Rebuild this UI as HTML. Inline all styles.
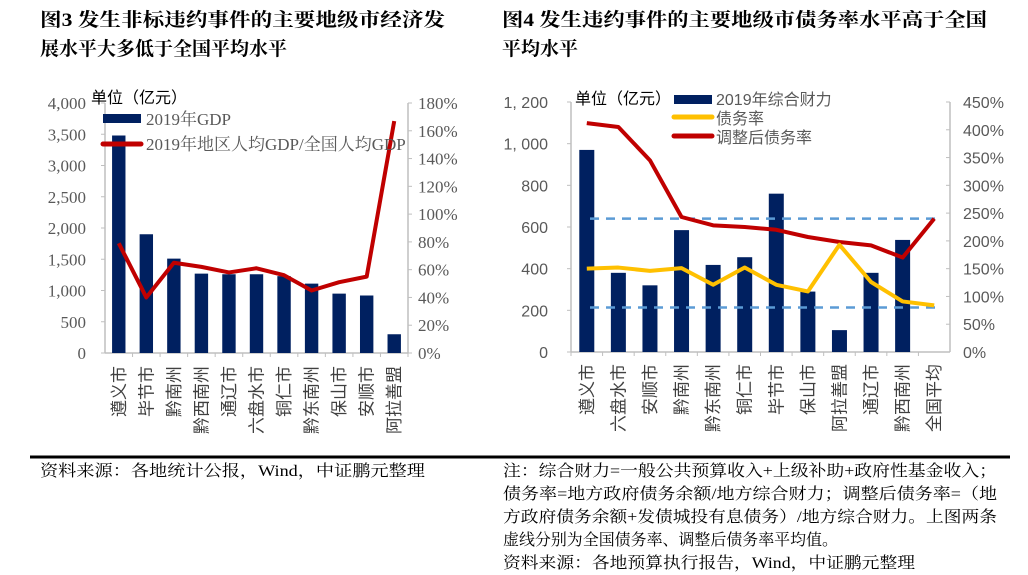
<!DOCTYPE html>
<html><head><meta charset="utf-8">
<style>
html,body{margin:0;padding:0;background:#fff;}
svg{display:block;}
.serif{font-family:"Liberation Serif","Noto Serif CJK SC",serif;}
.sans{font-family:"Liberation Sans","Noto Sans CJK SC",sans-serif;}
</style></head>
<body>
<svg id="s" width="1028" height="575" xmlns="http://www.w3.org/2000/svg">
<g class="serif" font-weight="bold" font-size="19" fill="#000">
<text x="40" y="26" textLength="405" lengthAdjust="spacingAndGlyphs">图3  发生非标违约事件的主要地级市经济发</text>
<text x="40" y="55">展水平大多低于全国平均水平</text>
<text x="502" y="26" textLength="485" lengthAdjust="spacingAndGlyphs">图4  发生违约事件的主要地级市债务率水平高于全国</text>
<text x="502" y="55">平均水平</text>
</g>
<line x1="30" y1="457" x2="1010" y2="457" stroke="#000" stroke-width="3"/>
<g class="serif" font-size="16" fill="#000">
<text x="40" y="476" textLength="385" lengthAdjust="spacingAndGlyphs">资料来源：各地统计公报，Wind，中证鹏元整理</text>
<text x="503" y="476" textLength="494" lengthAdjust="spacingAndGlyphs">注：综合财力=一般公共预算收入+上级补助+政府性基金收入；</text>
<text x="503" y="499" textLength="494" lengthAdjust="spacingAndGlyphs">债务率=地方政府债务余额/地方综合财力；调整后债务率=（地</text>
<text x="503" y="522" textLength="494" lengthAdjust="spacingAndGlyphs">方政府债务余额+发债城投有息债务）/地方综合财力。上图两条</text>
<text x="503" y="545" textLength="335" lengthAdjust="spacingAndGlyphs">虚线分别为全国债务率、调整后债务率平均值。</text>
<text x="503" y="568" textLength="412" lengthAdjust="spacingAndGlyphs">资料来源：各地预算执行报告，Wind，中证鹏元整理</text>
</g>
<g id="g"></g>
</svg>
<script>
var g=document.getElementById('g'),h='';
function T(x,y,t,o){h+='<text x="'+x+'" y="'+y+'" '+(o||'')+'>'+t+'</text>';}
// LEFT
var L0=105,L1=408,Y0=353,Y1=103;
h+='<line x1="'+L0+'" y1="'+Y1+'" x2="'+L0+'" y2="'+Y0+'" stroke="#bfbfbf" stroke-width="1.5"/>';
h+='<line x1="'+L1+'" y1="'+Y1+'" x2="'+L1+'" y2="'+Y0+'" stroke="#bfbfbf" stroke-width="1.5"/>';
h+='<line x1="'+L0+'" y1="'+Y0+'" x2="'+L1+'" y2="'+Y0+'" stroke="#bfbfbf" stroke-width="1.5"/>';
var ll=['0','500','1,000','1,500','2,000','2,500','3,000','3,500','4,000'];
for(var i=0;i<9;i++){var y=Y0-i*250/8;
 h+='<line x1="'+(L0-4)+'" y1="'+y+'" x2="'+L0+'" y2="'+y+'" stroke="#bfbfbf"/>';
 T(86,y+6,ll[i],'class="serif" font-size="17" fill="#595959" text-anchor="end"');}
for(i=0;i<10;i++){var y=Y0-i*250/9;
 h+='<line x1="'+L1+'" y1="'+y+'" x2="'+(L1+4)+'" y2="'+y+'" stroke="#bfbfbf"/>';
 T(418,y+6,(i*20)+'%','class="serif" font-size="17" fill="#595959"');}
var lc=['遵义市','毕节市','黔南州','黔西南州','通辽市','六盘水市','铜仁市','黔东南州','保山市','安顺市','阿拉善盟'];
var lb=[3480,1900,1510,1270,1260,1260,1230,1110,950,920,300];
var lp=[79,40,65,62,58,61,56,45,51,55,167];
var w=(L1-L0)/11,pts=[];
for(i=0;i<11;i++){var cx=L0+w*(i+.5),bh=lb[i]*250/4000;
 h+='<rect x="'+(cx-6.7)+'" y="'+(Y0-bh)+'" width="13.4" height="'+bh+'" fill="#002060"/>';
 h+='<line x1="'+(L0+w*(i+1))+'" y1="'+Y0+'" x2="'+(L0+w*(i+1))+'" y2="'+(Y0+4)+'" stroke="#bfbfbf"/>';
 pts.push(cx+','+(Y0-lp[i]*250/180));
 T(0,0,lc[i],'class="sans" font-size="17" fill="#404040" text-anchor="end" transform="translate('+(cx+6)+',366) rotate(-90)"');}
h+='<polyline points="'+pts.join(' ')+'" fill="none" stroke="#c00000" stroke-width="4" stroke-linejoin="round"/>';
h+='<rect x="103" y="114" width="38" height="9" fill="#002060"/>';
h+='<line x1="103" y1="144" x2="141" y2="144" stroke="#c00000" stroke-width="5" stroke-linecap="round"/>';
T(146,125,'2019年GDP','class="serif" font-size="17" fill="#595959"');
T(146,150,'2019年地区人均GDP/全国人均GDP','class="serif" font-size="17" fill="#595959"');
T(91,103,'单位（亿元）','class="sans" font-size="16" fill="#000"');
// RIGHT
var R0=571,R1=950,Z0=352,Z1=102;
h+='<line x1="'+R0+'" y1="'+Z1+'" x2="'+R0+'" y2="'+Z0+'" stroke="#bfbfbf" stroke-width="1.5"/>';
h+='<line x1="'+R1+'" y1="'+Z1+'" x2="'+R1+'" y2="'+Z0+'" stroke="#bfbfbf" stroke-width="1.5"/>';
h+='<line x1="'+R0+'" y1="'+Z0+'" x2="'+R1+'" y2="'+Z0+'" stroke="#bfbfbf" stroke-width="1.5"/>';
var rl=['0','200','400','600','800','1, 000','1, 200'];
for(i=0;i<7;i++){var y=Z0-i*250/6;
 h+='<line x1="'+(R0-4)+'" y1="'+y+'" x2="'+R0+'" y2="'+y+'" stroke="#bfbfbf"/>';
 T(548,y+6,rl[i],'class="sans" font-size="16" fill="#595959" text-anchor="end"');}
for(i=0;i<10;i++){var y=Z0-i*250/9;
 h+='<line x1="'+(R1-4)+'" y1="'+y+'" x2="'+R1+'" y2="'+y+'" stroke="#bfbfbf"/>';
 T(963,y+6,(i*50)+'%','class="sans" font-size="16" fill="#595959"');}
var rc=['遵义市','六盘水市','安顺市','黔南州','黔东南州','铜仁市','毕节市','保山市','阿拉善盟','通辽市','黔西南州','全国平均'];
var rb=[970,380,320,585,418,455,760,290,105,380,538,0];
var ry=[150,152,146,151,121,152,121,109,193,126,91,84];
var rr=[412,405,345,243,228,225,220,207,198,192,170,240];
w=(R1-R0)/12;var py=[],pr=[];
for(i=0;i<12;i++){var cx=R0+w*(i+.5),bh=rb[i]*250/1200;
 if(bh)h+='<rect x="'+(cx-7.5)+'" y="'+(Z0-bh)+'" width="15" height="'+bh+'" fill="#002060"/>';
 h+='<line x1="'+(R0+w*i)+'" y1="'+Z0+'" x2="'+(R0+w*i)+'" y2="'+(Z0+4)+'" stroke="#bfbfbf"/>';
 py.push(cx+','+(Z0-ry[i]*250/450));pr.push(cx+','+(Z0-rr[i]*250/450));
 T(0,0,rc[i],'class="sans" font-size="17" fill="#404040" text-anchor="end" transform="translate('+(cx+6)+',364) rotate(-90)"');}
var d1=Z0-240*250/450,d2=Z0-80*250/450;
h+='<line x1="590" y1="'+d1+'" x2="937" y2="'+d1+'" stroke="#5b9bd5" stroke-width="2.5" stroke-dasharray="9,7"/>';
h+='<line x1="590" y1="'+d2+'" x2="937" y2="'+d2+'" stroke="#5b9bd5" stroke-width="2.5" stroke-dasharray="9,7"/>';
h+='<polyline points="'+pr.join(' ')+'" fill="none" stroke="#c00000" stroke-width="4" stroke-linejoin="round"/>';
h+='<polyline points="'+py.join(' ')+'" fill="none" stroke="#ffc000" stroke-width="4" stroke-linejoin="round"/>';
h+='<rect x="674" y="95" width="38" height="9" fill="#002060"/>';
h+='<line x1="674" y1="117" x2="712" y2="117" stroke="#ffc000" stroke-width="5" stroke-linecap="round"/>';
h+='<line x1="674" y1="136" x2="712" y2="136" stroke="#c00000" stroke-width="5" stroke-linecap="round"/>';
T(716,105,'2019年综合财力','class="sans" font-size="16" fill="#595959"');
T(716,124,'债务率','class="sans" font-size="16" fill="#595959"');
T(716,143,'调整后债务率','class="sans" font-size="16" fill="#595959"');
T(575,104,'单位（亿元）','class="sans" font-size="16" fill="#000"');
g.innerHTML=h;
</script>
</body></html>
